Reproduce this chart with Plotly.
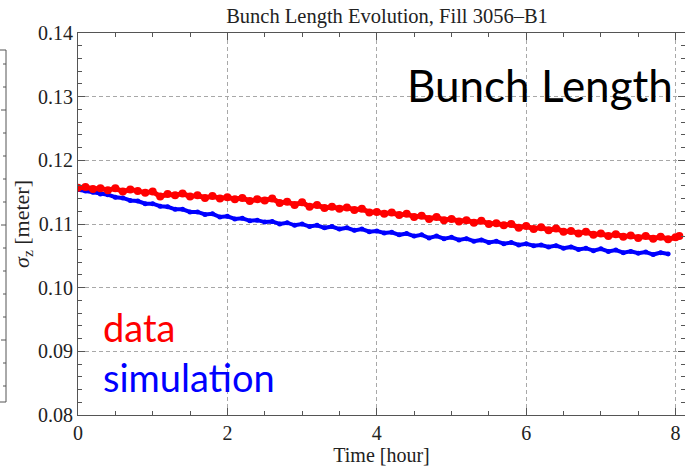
import plotly.graph_objects as go

# ---------------- data ----------------
time_data = [0.0, 0.1, 0.2, 0.3, 0.4, 0.5, 0.6, 0.7, 0.8, 0.9,
             1.0, 1.1, 1.2, 1.3, 1.4, 1.5, 1.6, 1.7, 1.8, 1.9,
             2.0, 2.1, 2.2, 2.3, 2.4, 2.5, 2.6, 2.7, 2.8, 2.9,
             3.0, 3.1, 3.2, 3.3, 3.4, 3.5, 3.6, 3.7, 3.8, 3.9,
             4.0, 4.1, 4.2, 4.3, 4.4, 4.5, 4.6, 4.7, 4.8, 4.9,
             5.0, 5.1, 5.2, 5.3, 5.4, 5.5, 5.6, 5.7, 5.8, 5.9,
             6.0, 6.1, 6.2, 6.3, 6.4, 6.5, 6.6, 6.7, 6.8, 6.9,
             7.0, 7.1, 7.2, 7.3, 7.4, 7.5, 7.6, 7.7, 7.8, 7.9,
             8.0, 8.05]
sigma_data = [0.1157, 0.1158, 0.1155, 0.1156, 0.1153, 0.1156, 0.1151, 0.1154, 0.1152, 0.1149,
              0.1151, 0.1143, 0.1147, 0.1145, 0.1148, 0.1143, 0.1145, 0.1141, 0.1144, 0.1140,
              0.1142, 0.1139, 0.1141, 0.1136, 0.1139, 0.1137, 0.1140, 0.1133, 0.1135, 0.1130,
              0.1134, 0.1127, 0.1130, 0.1125, 0.1127, 0.1124, 0.1126, 0.1122, 0.1124, 0.1118,
              0.1119, 0.1116, 0.1118, 0.1114, 0.1116, 0.1111, 0.1113, 0.1108, 0.1111, 0.1106,
              0.1108, 0.1104, 0.1106, 0.1102, 0.1105, 0.1100, 0.1101, 0.1098, 0.1100, 0.1094,
              0.1097, 0.1092, 0.1095, 0.1090, 0.1093, 0.1088, 0.1089, 0.1085, 0.1088, 0.1083,
              0.1085, 0.1081, 0.1084, 0.1080, 0.1082, 0.1078, 0.1081, 0.1077, 0.1080, 0.1076,
              0.1079, 0.1081]

time_sim = [0.0, 0.1, 0.2, 0.3, 0.4, 0.5, 0.6, 0.7, 0.8, 0.9,
            1.0, 1.1, 1.2, 1.3, 1.4, 1.5, 1.6, 1.7, 1.8, 1.9,
            2.0, 2.1, 2.2, 2.3, 2.4, 2.5, 2.6, 2.7, 2.8, 2.9,
            3.0, 3.1, 3.2, 3.3, 3.4, 3.5, 3.6, 3.7, 3.8, 3.9,
            4.0, 4.1, 4.2, 4.3, 4.4, 4.5, 4.6, 4.7, 4.8, 4.9,
            5.0, 5.1, 5.2, 5.3, 5.4, 5.5, 5.6, 5.7, 5.8, 5.9,
            6.0, 6.1, 6.2, 6.3, 6.4, 6.5, 6.6, 6.7, 6.8, 6.9,
            7.0, 7.1, 7.2, 7.3, 7.4, 7.5, 7.6, 7.7, 7.8, 7.9]
sigma_sim = [0.1154, 0.1152, 0.1150, 0.1147, 0.1146, 0.1142, 0.1141, 0.1137, 0.1136, 0.1132,
             0.1132, 0.1128, 0.1127, 0.1123, 0.1123, 0.1119, 0.1119, 0.1115, 0.1116, 0.1111,
             0.1112, 0.1108, 0.1109, 0.1105, 0.1106, 0.1103, 0.1104, 0.1100, 0.1102, 0.1098,
             0.1100, 0.1096, 0.1098, 0.1094, 0.1096, 0.1092, 0.1094, 0.1090, 0.1092, 0.1088,
             0.1089, 0.1086, 0.1087, 0.1083, 0.1085, 0.1081, 0.1083, 0.1078, 0.1081, 0.1077,
             0.1079, 0.1075, 0.1077, 0.1073, 0.1075, 0.1071, 0.1073, 0.1069, 0.1071, 0.1067,
             0.1069, 0.1066, 0.1067, 0.1064, 0.1066, 0.1062, 0.1064, 0.1060, 0.1062, 0.1058,
             0.1061, 0.1057, 0.1059, 0.1055, 0.1057, 0.1054, 0.1056, 0.1052, 0.1055, 0.1053]

x_ticks = [0, 2, 4, 6, 8]
y_ticks = [0.08, 0.09, 0.10, 0.11, 0.12, 0.13, 0.14]
y_tick_labels = ["0.08", "0.09", "0.10", "0.11", "0.12", "0.13", "0.14"]

# ---------------- figure ----------------
W, H = 685, 470
ML, MR, MT, MB = 78, 0, 33, 55
PW, PH = W - ML - MR, H - MT - MB

serif = "Liberation Serif, Times New Roman, serif"
sans = "Lato, Noto Sans, sans-serif"

fig = go.Figure()
fig.add_trace(go.Scatter(x=time_sim, y=sigma_sim, mode="lines+markers",
                         line=dict(color="#0000ff", width=4),
                         marker=dict(color="#0000ff", size=5),
                         showlegend=False))
fig.add_trace(go.Scatter(x=time_data, y=sigma_data, mode="lines+markers",
                         line=dict(color="#ff0000", width=5),
                         marker=dict(color="#ff0000", size=8),
                         showlegend=False))

axis_common = dict(showline=True, linecolor="#555555", linewidth=1, mirror="ticks",
                   ticks="inside", tickcolor="#555555", ticklen=7, tickwidth=1,
                   showgrid=True, gridcolor="#a8a8a8", griddash="4px,3px", gridwidth=1,
                   zeroline=False,
                   tickfont=dict(family=serif, size=20, color="#222222"))

fig.update_xaxes(range=[0, PW / 74.7], tickvals=x_ticks, ticktext=[str(v) for v in x_ticks],
                 minor=dict(dtick=0.5, ticks="inside", ticklen=4, tickcolor="#555555", showgrid=False),
                 title=dict(text="Time [hour]", font=dict(family=serif, size=20, color="#222222"),
                            standoff=4),
                 **axis_common)
fig.update_yaxes(range=[0.08, 0.14], tickvals=y_ticks, ticktext=y_tick_labels,
                 minor=dict(dtick=0.002, ticks="inside", ticklen=4, tickcolor="#555555", showgrid=False),
                 title=dict(text="<i>σ</i><sub>z</sub> [meter]",
                            font=dict(family=serif, size=22, color="#222222"), standoff=2),
                 **axis_common)

# annotations
fig.add_annotation(text="Bunch Length", xref="paper", yref="paper",
                   x=(675 - ML) / PW, y=(H - MB - 103) / PH, xanchor="right", yanchor="bottom",
                   showarrow=False, font=dict(family=sans, size=44, color="#000000"), yshift=-10)
fig.add_annotation(text="data", xref="paper", yref="paper",
                   x=(101 - ML) / PW, y=(H - MB - 342) / PH, xanchor="left", yanchor="bottom",
                   showarrow=False, font=dict(family=sans, size=38, color="#ff0000"), yshift=-10)
fig.add_annotation(text="simulation", xref="paper", yref="paper",
                   x=(101 - ML) / PW, y=(H - MB - 392) / PH, xanchor="left", yanchor="bottom",
                   showarrow=False, font=dict(family=sans, size=38, color="#0000ff"), yshift=-10)

# fragment of a neighbouring frame at the far left edge
def px_x(px):
    return (px - ML) / PW

def px_y(py):
    return (H - MB - py) / PH

shapes = []
fc = "#555555"
shapes.append(dict(type="line", xref="paper", yref="paper", x0=px_x(6), x1=px_x(6),
                   y0=px_y(50), y1=px_y(402), line=dict(color=fc, width=1)))
shapes.append(dict(type="line", xref="paper", yref="paper", x0=px_x(-2), x1=px_x(6),
                   y0=px_y(50), y1=px_y(50), line=dict(color=fc, width=1)))
shapes.append(dict(type="line", xref="paper", yref="paper", x0=px_x(-2), x1=px_x(6),
                   y0=px_y(402), y1=px_y(402), line=dict(color=fc, width=1)))
for k in range(-2, 14):
    py = 110 + 23 * k
    if py <= 52 or py >= 400:
        continue
    ln = 5 if k % 5 == 0 else 3
    shapes.append(dict(type="line", xref="paper", yref="paper", x0=px_x(6 - ln), x1=px_x(6),
                       y0=px_y(py), y1=px_y(py), line=dict(color=fc, width=1)))

fig.update_layout(width=W, height=H, margin=dict(l=ML, r=MR, t=MT, b=MB),
                  paper_bgcolor="white", plot_bgcolor="white",
                  title=dict(text="Bunch Length Evolution, Fill 3056–B1",
                             font=dict(family=serif, size=20.5, color="#222222"),
                             x=(387) / W, xanchor="center", y=1 - 16 / H, yanchor="middle"),
                  shapes=shapes)

fig.write_html("out.html")
